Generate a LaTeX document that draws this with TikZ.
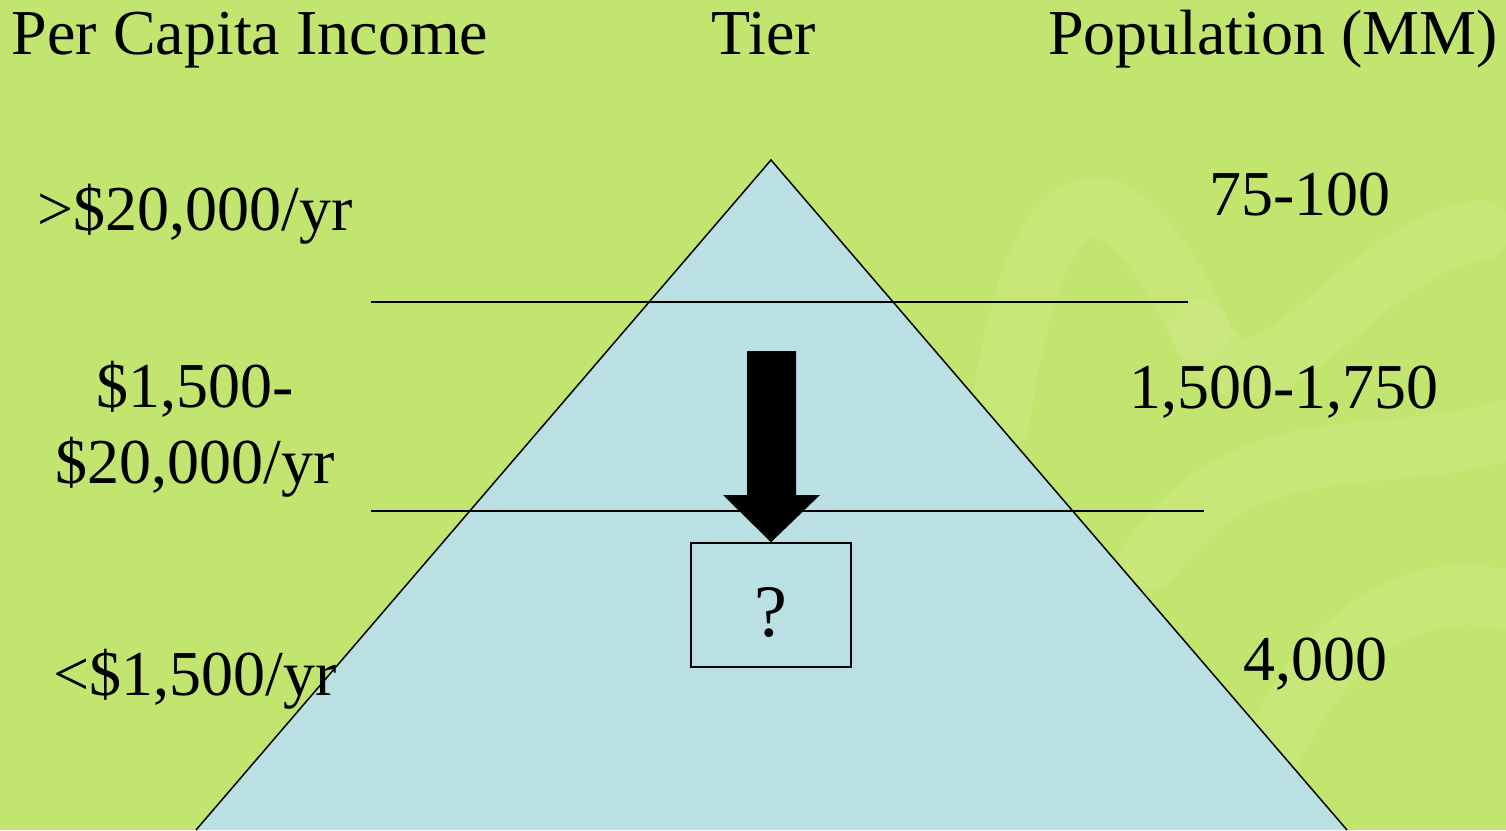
\documentclass[tikz,border=0pt]{standalone}
\usepackage{fontspec}
\setmainfont{Liberation Serif}
\begin{document}
\begin{tikzpicture}[x=1pt,y=-1pt,
  lbl/.style={anchor=base,inner sep=0pt,font=\fontsize{64}{70}\selectfont},
  rule/.style={line width=1.5pt},
  swirl/.style={line width=60pt,draw=swirlc,opacity=0.22,line cap=round}]
\definecolor{bgc}{HTML}{C2E56F}
\definecolor{triblue}{HTML}{BAE0E4}
\definecolor{swirlc}{HTML}{DDF09A}
\useasboundingbox (0,0) rectangle (1506,830);
\fill[bgc] (0,0) rectangle (1506,830);
% faint background swirls
\draw[swirl] (1000,420) .. controls (1030,200) and (1100,120) .. (1200,330);
\draw[swirl] (1200,330) .. controls (1260,450) and (1350,250) .. (1480,230);
\draw[swirl] (1150,560) .. controls (1250,420) and (1380,470) .. (1506,430);
\draw[swirl] (1250,800) .. controls (1320,620) and (1420,580) .. (1506,600);
% pyramid
\coordinate (apex) at (771,160);
\coordinate (bl) at (196,830);
\coordinate (br) at (1347,830);
\fill[triblue] (bl) -- (apex) -- (br) -- cycle;
% texts
\node[lbl] (hinc) at (250,54) {Per Capita Income};
\node[lbl] (htier) at (764,54) {Tier};
\node[lbl] (hpop) at (1273,54) {Population (MM)};
\node[lbl] (i1) at (195,230) {>\$20,000/yr};
\node[lbl] (i2a) at (195,407) {\$1,500-};
\node[lbl] (i2b) at (195,483) {\$20,000/yr};
\node[lbl] (i3) at (195,695) {<\$1,500/yr};
\node[lbl] (p1) at (1300,215) {75-100};
\node[lbl] (p2) at (1284,408) {1,500-1,750};
\node[lbl] (p3) at (1315,680) {4,000};
% pyramid edges
\draw[line width=1.5pt] (bl) -- (apex) -- (br);
% tier dividers
\coordinate (d1l) at (371,302); \coordinate (d1r) at (1188,302);
\coordinate (d2l) at (371,511); \coordinate (d2r) at (1204,511);
\draw[rule] (d1l) -- (d1r);
\draw[rule] (d2l) -- (d2r);
% box
\node[draw,line width=1.5pt,minimum width=160pt,minimum height=124pt,inner sep=0pt] (q) at (771,605) {};
\node[lbl,font=\fontsize{74}{80}\selectfont] (qm) at (771,636) {?};
% arrow
\fill[black] (747,351) -- (796,351) -- (796,495) -- (820,495) -- (q.north) -- (723,495) -- (747,495) -- cycle;
\end{tikzpicture}
\end{document}
